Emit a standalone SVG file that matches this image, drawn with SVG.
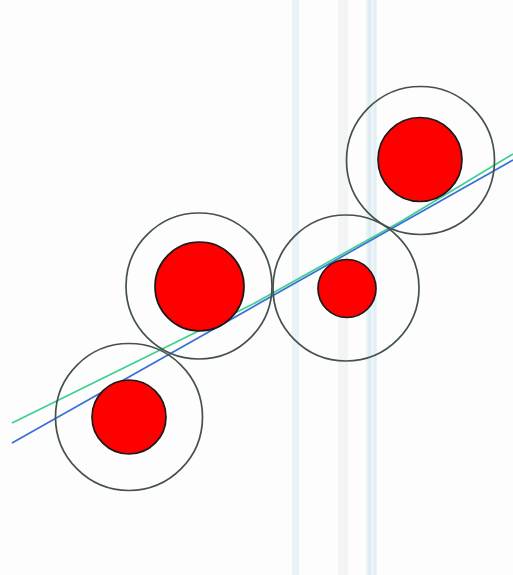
<svg xmlns="http://www.w3.org/2000/svg" width="513" height="575" viewBox="0 0 513 575">
<style>
.band{stroke:none}
.outer{fill:none;stroke:#44524a;stroke-width:1.7}
.inner{fill:#ff0000;stroke:#1a1a1a;stroke-width:1.7}
.blue{fill:none;stroke:#3a6fd8;stroke-width:1.7}
.green{fill:none;stroke:#3fcf8e;stroke-width:1.7}
</style>
<rect width="513" height="575" fill="#fdfdfd"/>
<g id="bands">
<rect class="band" x="292" y="0" width="7" height="575" fill="#eaf3f8"/>
<rect class="band" x="338" y="0" width="10" height="575" fill="#f2f4f6"/>
<rect class="band" x="366" y="0" width="11" height="575" fill="#ebf3f7"/>
<rect class="band" x="368" y="0" width="3" height="575" fill="#deedf4"/>
<rect class="band" x="374" y="0" width="2" height="575" fill="#e2eef4"/>
</g>
<g id="connectors">
<polyline class="green" points="12,423 150,355 253,304 400,222 513,154"/>
<line class="blue" x1="12" y1="443" x2="513" y2="160"/>
</g>
<g id="node1">
<circle class="outer" cx="129" cy="417" r="73.5"/>
<circle class="inner" cx="129" cy="417" r="37"/>
</g>
<g id="node2">
<circle class="outer" cx="199" cy="286" r="73"/>
<circle class="inner" cx="199.5" cy="286.5" r="44.5"/>
</g>
<g id="node3">
<circle class="outer" cx="346" cy="288" r="73"/>
<circle class="inner" cx="347" cy="288.5" r="29"/>
</g>
<g id="node4">
<circle class="outer" cx="420.5" cy="160.5" r="74"/>
<circle class="inner" cx="420" cy="159.5" r="42"/>
</g>
</svg>
